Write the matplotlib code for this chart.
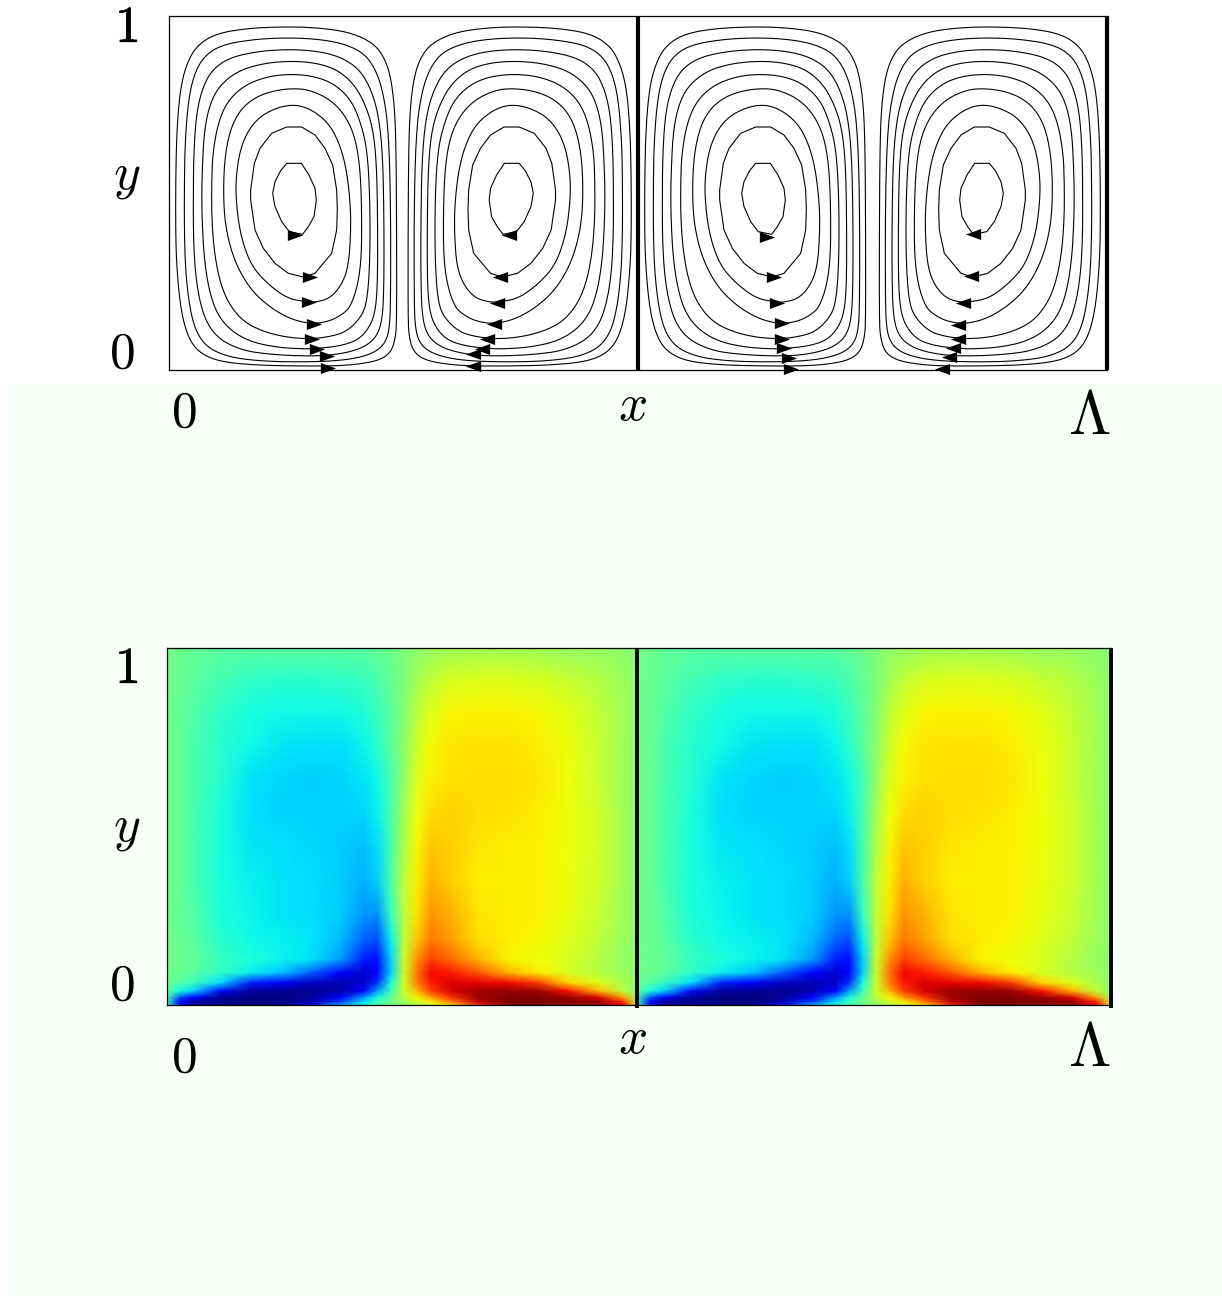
import numpy as np
import matplotlib
matplotlib.use("Agg")
import matplotlib.pyplot as plt
import matplotlib.patheffects as pe
from matplotlib.patches import Rectangle

plt.rcParams['mathtext.fontset'] = 'cm'

W, H = 1222, 1296

# streamlines of one roll, traced clockwise from the top, in units of a 3x crop
# (crop x 27 is the left wall, crop y 47 is y=1, crop y 1110 is y=0)
loop1 = [(390,80),(480,84),(560,95),(620,118),(660,150),(688,210),(702,300),(708,420),(710,700),(710,960),(707,1010),(695,1053),(665,1078),(610,1091),(530,1098),(400,1098),(280,1095),(180,1085),(120,1060),(85,1015),(62,930),(50,800),(47,700),(47,550),(50,400),(60,270),(80,190),(112,135),(170,100),(270,84)]
loop2 = [(390,113),(480,118),(555,132),(612,160),(645,205),(668,270),(685,380),(692,600),(692,910),(688,990),(675,1030),(645,1057),(590,1075),(510,1084),(400,1086),(300,1083),(210,1072),(145,1045),(110,1000),(90,930),(77,820),(73,700),(73,560),(75,430),(85,300),(103,220),(135,165),(190,133),(290,117)]
loop3 = [(390,148),(470,153),(540,170),(595,205),(630,260),(655,340),(668,460),(672,650),(672,860),(667,960),(650,1010),(615,1040),(565,1057),(500,1067),(420,1068),(330,1063),(250,1052),(180,1020),(140,970),(118,900),(105,810),(100,700),(100,580),(101,470),(108,350),(125,270),(155,210),(210,172),(300,153)]
loop4 = [(390,183),(465,188),(530,208),(580,250),(615,310),(640,390),(650,500),(653,660),(653,840),(647,930),(630,980),(595,1020),(540,1038),(475,1045),(430,1047),(350,1042),(270,1025),(210,990),(170,940),(147,870),(133,780),(127,680),(125,590),(127,500),(133,390),(150,310),(180,255),(235,212),(310,190)]
loop5 = [(390,222),(460,228),(520,250),(570,295),(600,360),(622,450),(630,600),(630,780),(622,900),(605,950),(560,995),(510,1010),(450,1017),(380,1012),(310,995),(250,965),(205,910),(178,840),(162,750),(155,650),(155,550),(158,460),(175,365),(205,300),(255,255),(320,230)]
loop6 = [(400,265),(450,270),(510,298),(555,345),(585,410),(600,500),(605,620),(605,760),(595,850),(572,920),(545,945),(505,965),(450,972),(385,955),(320,915),(265,860),(222,780),(198,690),(190,600),(193,480),(210,390),(240,330),(285,292),(340,272)]
loop7 = [(380,316),(420,316),(465,335),(510,375),(540,435),(560,510),(572,620),(572,710),(565,800),(545,855),(510,895),(465,907),(440,906),(380,895),(315,845),(270,790),(240,700),(228,600),(228,530),(240,450),(265,390),(300,350),(340,328)]
loop8 = [(380,381),(425,381),(465,405),(495,445),(518,495),(530,570),(532,630),(530,690),(515,760),(465,820),(430,831),(385,820),(345,790),(310,745),(285,690),(272,600),(272,570),(283,490),(300,445),(335,400)]
loop9 = [(380,490),(424,490),(447,525),(465,565),(469,600),(462,650),(445,680),(428,703),(388,695),(365,665),(345,620),(338,580),(345,545),(362,512)]
loops = [loop1, loop2, loop3, loop4, loop5, loop6, loop7, loop8, loop9]

# arrow heads, read in image pixels
arrows_x1 = [295, 310, 309, 314, 312, 317, 327, 328]
arrows_y1 = [235, 277, 302, 324, 339, 349, 356, 368]
arrows_x2 = [509, 500, 497, 494, 487, 482, 473, 473]
arrows_y2 = [235, 277, 303, 324, 339, 349, 354, 366]
arrows_x3 = [767, 774, 777, 782, 782, 784, 789, 791]
arrows_y3 = [237, 277, 303, 323, 339, 348, 358, 369]
arrows_x4 = [973, 971, 963, 958, 958, 953, 949, 942]
arrows_y4 = [234, 276, 303, 325, 339, 348, 357, 369]

# temperature over one period, colour value read at crop positions
heat_x = [20, 60, 100, 180, 270, 360, 450, 540, 610, 650, 690, 730, 770, 810, 870, 950, 1040, 1130, 1220, 1310, 1380, 1425]
heat_y = [25, 120, 220, 320, 420, 520, 620, 720, 820, 900, 960, 1000, 1030, 1055, 1075, 1088, 1097]
heat = np.array([
    [.49,.48,.47,.46,.46,.46,.46,.46,.46,.47,.48,.50,.52,.53,.54,.54,.54,.54,.53,.53,.52,.51],
    [.49,.475,.46,.43,.41,.40,.40,.41,.42,.44,.47,.50,.55,.58,.61,.62,.62,.61,.59,.57,.54,.52],
    [.49,.47,.45,.41,.38,.37,.37,.37,.39,.42,.46,.51,.58,.62,.65,.655,.655,.645,.625,.585,.55,.52],
    [.49,.47,.44,.40,.37,.355,.345,.345,.365,.40,.46,.52,.60,.645,.665,.67,.67,.66,.635,.59,.55,.52],
    [.49,.47,.44,.395,.35,.335,.325,.33,.35,.37,.43,.53,.62,.655,.67,.675,.675,.665,.64,.59,.55,.52],
    [.49,.47,.44,.385,.345,.33,.33,.33,.335,.36,.44,.55,.64,.675,.685,.675,.67,.66,.64,.60,.55,.52],
    [.49,.47,.44,.38,.355,.345,.335,.325,.315,.34,.44,.56,.65,.70,.69,.665,.66,.655,.64,.60,.55,.52],
    [.49,.47,.44,.38,.36,.35,.34,.325,.30,.33,.44,.58,.66,.72,.69,.66,.66,.655,.635,.60,.55,.52],
    [.49,.47,.45,.385,.365,.35,.34,.325,.275,.27,.42,.58,.67,.75,.72,.665,.66,.655,.63,.59,.55,.52],
    [.49,.475,.46,.40,.37,.36,.35,.31,.225,.20,.36,.58,.70,.78,.74,.675,.66,.645,.62,.58,.54,.52],
    [.49,.48,.47,.42,.385,.365,.35,.28,.15,.14,.33,.60,.76,.84,.80,.72,.65,.64,.61,.57,.53,.52],
    [.49,.475,.46,.41,.36,.32,.22,.12,.07,.13,.33,.60,.79,.90,.88,.82,.72,.66,.61,.57,.54,.52],
    [.48,.45,.42,.34,.16,.12,.06,.05,.07,.17,.38,.60,.78,.88,.92,.91,.90,.84,.68,.62,.56,.52],
    [.46,.38,.33,.14,.03,.02,.02,.04,.12,.28,.42,.60,.72,.84,.92,.97,.98,.97,.89,.72,.58,.53],
    [.44,.20,.12,.02,0,0,.02,.12,.28,.38,.47,.58,.65,.74,.85,.97,1,1,.98,.92,.75,.55],
    [.42,.10,.03,.01,0,0,.04,.18,.34,.42,.48,.54,.60,.66,.78,.94,1,1,.99,.98,.88,.60],
    [.42,.14,.04,.02,0,0,.10,.30,.40,.44,.49,.52,.56,.60,.68,.86,1,1,1,.98,.90,.62],
])


def chaikin(pts, n=3):
    # corner cutting on the closed traced polygon
    p = np.array(pts, dtype=float)
    for _ in range(n):
        q = np.roll(p, -1, axis=0)
        p = np.column_stack([0.75*p + 0.25*q, 0.25*p + 0.75*q]).reshape(-1, 2)
    return p


def axes_px(left, right, top, bottom):
    return fig.add_axes([left/W, 1-bottom/H, (right-left)/W, (bottom-top)/H])


fig = plt.figure(figsize=(W/100, H/100), dpi=100, facecolor='white')
fig.add_artist(Rectangle((8/W, 0), 1-8/W, 1-383/H, transform=fig.transFigure, fc='#f8fef8', ec='none', zorder=-1))

# upper panel: streamlines
ax1 = axes_px(169, 1107, 16, 370)
line = dict(color='k', lw=0.8, solid_capstyle='butt', solid_joinstyle='round')
for i, loop in enumerate(loops):
    pts = chaikin(loop) if i < 7 else np.array(loop, dtype=float)
    pts = np.vstack([pts, pts[:1]])
    u = (pts[:, 0]-27)/(3*938)
    y = (1110-pts[:, 1])/1062
    ax1.plot(u, y, **line)
    ax1.plot(0.5-u*1.01, y, **line)
    ax1.plot(0.5+u, y, **line)
    ax1.plot(1-u, y, **line)

right_head = [(-1, -0.72), (1, 0), (-1, 0.72), (-1, -0.72)]
left_head = [(1, -0.72), (-1, 0), (1, 0.72), (1, -0.72)]
for xs, ys, mk in [(arrows_x1, arrows_y1, right_head), (arrows_x2, arrows_y2, left_head),
                   (arrows_x3, arrows_y3, right_head), (arrows_x4, arrows_y4, left_head)]:
    ax1.plot((np.array(xs)-169)/938, (370-np.array(ys))/354, ls='none', marker=mk, ms=11,
             color='k', mew=0, clip_on=False, zorder=5)
ax1.set_xlim(0, 1)
ax1.set_ylim(0, 1)

# lower panel: temperature
ax2 = axes_px(166.5, 1111, 648, 1005)
hx = (np.array(heat_x)-20)/1405/2
hy = (1097-np.array(heat_y))/1072
ax2.pcolormesh(hx*0.996, hy, heat, cmap='jet', vmin=0, vmax=1, shading='gouraud', rasterized=True)
ax2.pcolormesh(0.498+hx*1.004, hy, heat, cmap='jet', vmin=0, vmax=1, shading='gouraud', rasterized=True)
ax2.set_xlim(0, 1)
ax2.set_ylim(0, 1)

for ax, lw, mid, bottom in [(ax1, 3.0, 0.5, 0), (ax2, 2.8, 0.498, -0.008)]:
    ax.set_xticks([])
    ax.set_yticks([])
    for s in ax.spines.values():
        s.set_linewidth(0.9)
    ax.plot([mid, mid], [bottom, 1], color='k', lw=lw, solid_capstyle='butt', clip_on=False, zorder=6)
    ax.plot([1, 1], [bottom, 1], color='k', lw=lw, solid_capstyle='butt', clip_on=False, zorder=6)

# labels, centred on the image pixels they sit at
size = 37
bold = [pe.withStroke(linewidth=0.5, foreground='k')]
for px, py, s, fs, fx in [(127, 28, r'$1$', size, bold), (127, 176, r'$y$', size, None), (122, 354, r'$0$', size, None),
                          (184, 413, r'$0$', size, None), (633, 406, r'$x$', size, None), (1089, 418, r'$\Lambda$', 44, None),
                          (127, 669, r'$1$', size, bold), (127, 828, r'$y$', size, None), (122, 986, r'$0$', size, None),
                          (184, 1058, r'$0$', size, None), (633, 1039, r'$x$', size, None), (1089, 1050, r'$\Lambda$', 44, None)]:
    fig.text(px/W, 1-py/H, s, fontsize=fs, ha='center', va='center', path_effects=fx)

fig.savefig('out.png', dpi=100, facecolor='white')
